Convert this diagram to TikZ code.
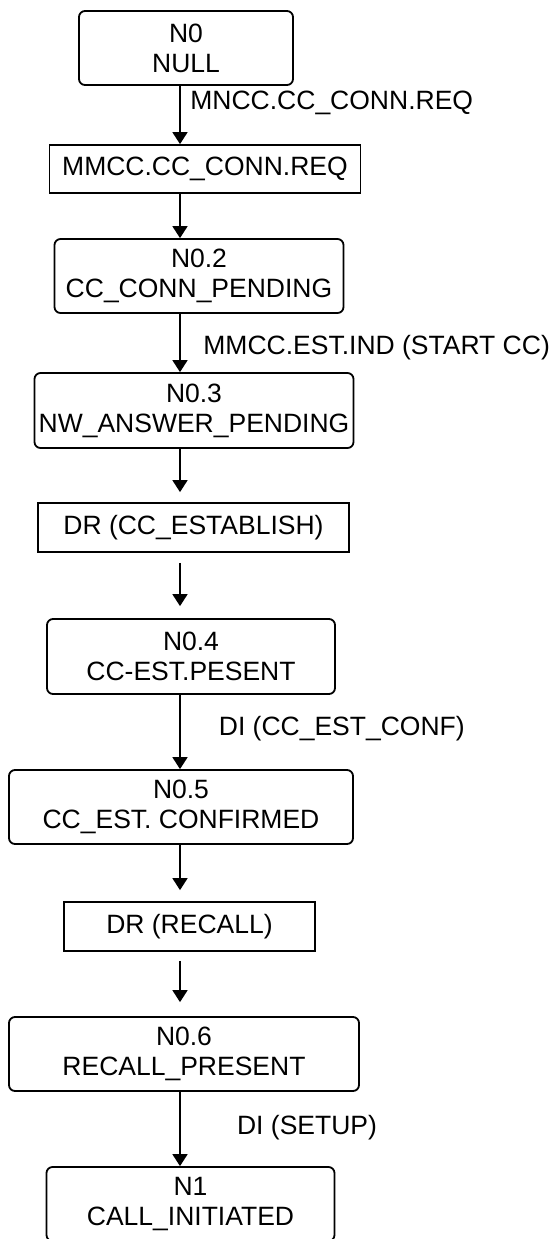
\documentclass[tikz,border=0pt]{standalone}
\usepackage{fontspec}
\setmainfont{Liberation Sans}
\usepackage{tikz}
\usetikzlibrary{arrows.meta}
\usetikzlibrary{calc}

\begin{document}
\begin{tikzpicture}[x=0.5pt,y=-0.5pt,
    box/.style={draw,line width=0.9pt,inner sep=0,align=center,font=\fontsize{13.25}{15}\selectfont},
    state/.style={box,rounded corners=3pt},
    prim/.style={box},
    flow/.style={-{Triangle[width=7.5pt,length=6pt]},line width=0.9pt},
    lbl/.style={anchor=west,inner sep=0,font=\fontsize{13.25}{15}\selectfont}]
    \useasboundingbox (0,0) rectangle (556,1239);
    \coordinate (ax) at (180,0);

    \node[state,minimum width=107pt,minimum height=37pt] (n0) at (186,48) {N0\\NULL};
    \node[prim,minimum width=155.5pt,minimum height=24pt] (mmcc) at (205,169) {MMCC.CC\_CONN.REQ};
    \node[state,minimum width=144.5pt,minimum height=37pt] (n02) at (199,276) {N0.2\\CC\_CONN\_PENDING};
    \node[state,minimum width=159.5pt,minimum height=37.5pt] (n03) at (194,410.5) {N0.3\\NW\_ANSWER\_PENDING};
    \node[prim,minimum width=155.5pt,minimum height=24.5pt] (drest) at (193.5,527.5) {DR (CC\_ESTABLISH)};
    \node[state,minimum width=144pt,minimum height=37.5pt] (n04) at (191,656.5) {N0.4\\CC-EST.PESENT};
    \node[state,minimum width=172pt,minimum height=37pt] (n05) at (181,807) {N0.5\\CC\_EST. CONFIRMED};
    \node[prim,minimum width=125.5pt,minimum height=24.5pt] (drrec) at (189.5,926.5) {DR (RECALL)};
    \node[state,minimum width=175pt,minimum height=37pt] (n06) at (184,1054) {N0.6\\RECALL\_PRESENT};
    \node[state,minimum width=144pt,minimum height=37pt] (n1) at (190.5,1204) {N1\\CALL\_INITIATED};

    \draw[flow] (n0.south -| ax) -- (mmcc.north -| ax);
    \draw[flow] (mmcc.south -| ax) -- (n02.north -| ax);
    \draw[flow] (n02.south -| ax) -- (n03.north -| ax);
    \draw[flow,shorten >=5pt] (n03.south -| ax) -- (drest.north -| ax);
    \draw[flow,shorten <=5pt,shorten >=6pt] (drest.south -| ax) -- (n04.north -| ax);
    \draw[flow] (n04.south -| ax) -- (n05.north -| ax);
    \draw[flow,shorten >=5.5pt] (n05.south -| ax) -- (drrec.north -| ax);
    \draw[flow,shorten <=4.5pt,shorten >=7pt] (drrec.south -| ax) -- (n06.north -| ax);
    \draw[flow] (n06.south -| ax) -- (n1.north -| ax);

    \node[lbl] (l0) at (190,103) {MNCC.CC\_CONN.REQ};
    \node[lbl] (l2) at (203,348) {MMCC.EST.IND (START CC)};
    \node[lbl] (l4) at (218.5,729) {DI (CC\_EST\_CONF)};
    \node[lbl] (l6) at (236.7,1128) {DI (SETUP)};
\end{tikzpicture}
\end{document}
